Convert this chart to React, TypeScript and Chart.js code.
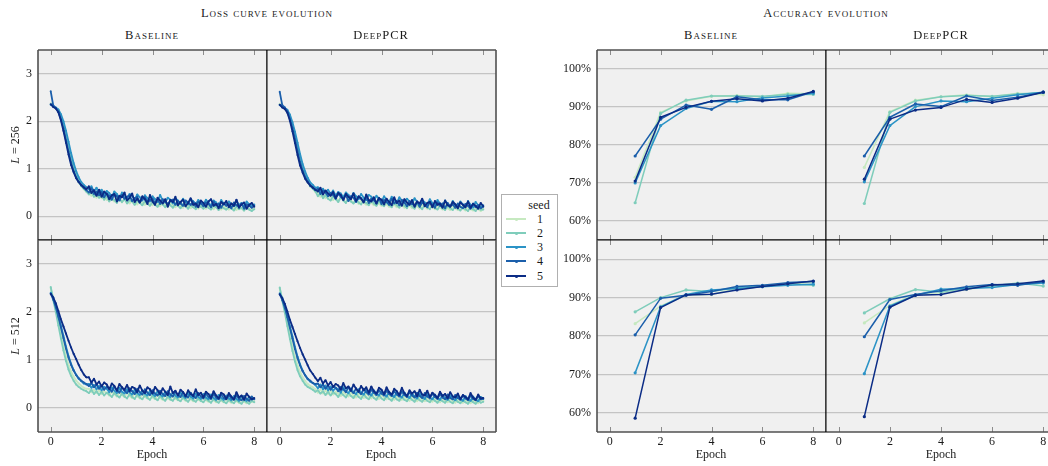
import React, { useEffect, useRef } from "react";
import { Chart, registerables } from "chart.js";

Chart.register(...registerables);

const FONT = '"Liberation Serif", "DejaVu Serif", serif';

const SEED_LABELS = ["1", "2", "3", "4", "5"];
const SEED_COLORS = ["#c6e9c0", "#7fcdbb", "#2b93c6", "#1b5fab", "#0b2c86"];

const X_TICKS = [0, 2, 4, 6, 8];
const LOSS_Y_TICKS = [0, 1, 2, 3];
const ACC_Y_TICKS = [60, 70, 80, 90, 100];

const LOSS_EPOCHS = [
  0, 0.1, 0.2, 0.3, 0.4, 0.5, 0.6, 0.7, 0.8, 0.9,
  1, 1.1, 1.2, 1.3, 1.4, 1.5, 1.6, 1.7, 1.8, 1.9,
  2, 2.1, 2.2, 2.3, 2.4, 2.5, 2.6, 2.7, 2.8, 2.9,
  3, 3.1, 3.2, 3.3, 3.4, 3.5, 3.6, 3.7, 3.8, 3.9,
  4, 4.1, 4.2, 4.3, 4.4, 4.5, 4.6, 4.7, 4.8, 4.9,
  5, 5.1, 5.2, 5.3, 5.4, 5.5, 5.6, 5.7, 5.8, 5.9,
  6, 6.1, 6.2, 6.3, 6.4, 6.5, 6.6, 6.7, 6.8, 6.9,
  7, 7.1, 7.2, 7.3, 7.4, 7.5, 7.6, 7.7, 7.8, 7.9,
  8,
];
const ACC_EPOCHS = [1, 2, 3, 4, 5, 6, 7, 8];

// ---------- Loss, Baseline, L = 256 ----------
const LOSS_BASE_256_S1 = [
  2.38, 2.31, 2.27, 2.21, 2.07, 1.90, 1.66, 1.41, 1.17, 0.98,
  0.83, 0.71, 0.63, 0.57, 0.52, 0.48, 0.43, 0.49, 0.39, 0.45,
  0.38, 0.43, 0.34, 0.40, 0.36, 0.31, 0.39, 0.35, 0.29, 0.37,
  0.32, 0.27, 0.35, 0.30, 0.25, 0.33, 0.29, 0.24, 0.32, 0.27,
  0.23, 0.30, 0.26, 0.21, 0.29, 0.25, 0.20, 0.28, 0.23, 0.19,
  0.27, 0.22, 0.18, 0.26, 0.21, 0.17, 0.25, 0.20, 0.16, 0.24,
  0.20, 0.16, 0.23, 0.19, 0.15, 0.22, 0.18, 0.14, 0.21, 0.17,
  0.14, 0.21, 0.17, 0.13, 0.20, 0.16, 0.12, 0.19, 0.15, 0.13,
  0.16,
];
const LOSS_BASE_256_S2 = [
  2.36, 2.31, 2.28, 2.23, 2.10, 1.95, 1.72, 1.48, 1.24, 1.04,
  0.88, 0.75, 0.65, 0.58, 0.52, 0.46, 0.51, 0.41, 0.47, 0.39,
  0.43, 0.35, 0.42, 0.31, 0.39, 0.34, 0.28, 0.38, 0.30, 0.36,
  0.27, 0.34, 0.31, 0.24, 0.33, 0.28, 0.23, 0.32, 0.26, 0.22,
  0.30, 0.24, 0.20, 0.29, 0.25, 0.19, 0.28, 0.23, 0.18, 0.27,
  0.22, 0.17, 0.26, 0.21, 0.16, 0.24, 0.19, 0.15, 0.25, 0.20,
  0.16, 0.23, 0.18, 0.14, 0.22, 0.19, 0.13, 0.21, 0.17, 0.14,
  0.20, 0.16, 0.12, 0.21, 0.15, 0.18, 0.12, 0.19, 0.14, 0.11,
  0.15,
];
const LOSS_BASE_256_S3 = [
  2.35, 2.32, 2.29, 2.25, 2.15, 2.00, 1.80, 1.57, 1.33, 1.12,
  0.95, 0.82, 0.72, 0.66, 0.61, 0.57, 0.63, 0.52, 0.60, 0.49,
  0.56, 0.46, 0.53, 0.49, 0.41, 0.52, 0.47, 0.38, 0.50, 0.44,
  0.37, 0.47, 0.43, 0.34, 0.46, 0.40, 0.33, 0.44, 0.38, 0.31,
  0.42, 0.36, 0.30, 0.45, 0.33, 0.29, 0.39, 0.35, 0.27, 0.38,
  0.33, 0.27, 0.37, 0.30, 0.25, 0.36, 0.31, 0.26, 0.34, 0.29,
  0.24, 0.35, 0.28, 0.23, 0.33, 0.29, 0.22, 0.34, 0.27, 0.23,
  0.31, 0.26, 0.21, 0.33, 0.24, 0.28, 0.20, 0.31, 0.25, 0.22,
  0.25,
];
const LOSS_BASE_256_S4 = [
  2.63, 2.33, 2.28, 2.20, 2.04, 1.85, 1.60, 1.36, 1.13, 0.95,
  0.82, 0.72, 0.65, 0.60, 0.55, 0.50, 0.59, 0.47, 0.52, 0.44,
  0.51, 0.40, 0.48, 0.43, 0.35, 0.46, 0.42, 0.33, 0.45, 0.37,
  0.41, 0.44, 0.32, 0.38, 0.41, 0.29, 0.36, 0.40, 0.31, 0.34,
  0.37, 0.28, 0.35, 0.26, 0.36, 0.31, 0.25, 0.33, 0.35, 0.24,
  0.32, 0.27, 0.22, 0.33, 0.29, 0.24, 0.31, 0.20, 0.30, 0.27,
  0.21, 0.29, 0.26, 0.19, 0.31, 0.23, 0.27, 0.18, 0.28, 0.22,
  0.26, 0.17, 0.29, 0.23, 0.20, 0.27, 0.16, 0.25, 0.22, 0.18,
  0.22,
];
const LOSS_BASE_256_S5 = [
  2.36, 2.30, 2.27, 2.19, 2.02, 1.80, 1.55, 1.30, 1.08, 0.93,
  0.80, 0.72, 0.66, 0.61, 0.57, 0.63, 0.49, 0.55, 0.43, 0.56,
  0.41, 0.52, 0.47, 0.36, 0.44, 0.47, 0.31, 0.43, 0.40, 0.50,
  0.33, 0.39, 0.48, 0.30, 0.37, 0.29, 0.42, 0.36, 0.26, 0.45,
  0.31, 0.24, 0.39, 0.33, 0.27, 0.36, 0.20, 0.34, 0.30, 0.41,
  0.23, 0.30, 0.35, 0.21, 0.28, 0.38, 0.24, 0.27, 0.19, 0.33,
  0.28, 0.20, 0.31, 0.36, 0.22, 0.26, 0.17, 0.30, 0.25, 0.32,
  0.19, 0.27, 0.22, 0.35, 0.18, 0.25, 0.29, 0.16, 0.24, 0.28,
  0.20,
];

// ---------- Loss, DeepPCR, L = 256 ----------
const LOSS_DEEP_256_S1 = [
  2.37, 2.30, 2.26, 2.20, 2.06, 1.88, 1.64, 1.40, 1.16, 0.97,
  0.82, 0.72, 0.62, 0.58, 0.51, 0.49, 0.41, 0.46, 0.38, 0.44,
  0.40, 0.34, 0.42, 0.31, 0.38, 0.35, 0.29, 0.37, 0.33, 0.28,
  0.35, 0.26, 0.33, 0.29, 0.24, 0.32, 0.28, 0.23, 0.31, 0.26,
  0.22, 0.30, 0.25, 0.20, 0.29, 0.24, 0.19, 0.28, 0.23, 0.18,
  0.26, 0.22, 0.17, 0.27, 0.21, 0.16, 0.25, 0.20, 0.16, 0.24,
  0.19, 0.15, 0.23, 0.18, 0.14, 0.23, 0.17, 0.13, 0.22, 0.17,
  0.13, 0.21, 0.16, 0.12, 0.21, 0.15, 0.12, 0.20, 0.15, 0.11,
  0.16,
];
const LOSS_DEEP_256_S2 = [
  2.35, 2.30, 2.27, 2.22, 2.09, 1.93, 1.70, 1.46, 1.22, 1.02,
  0.87, 0.75, 0.66, 0.58, 0.53, 0.42, 0.49, 0.38, 0.45, 0.37,
  0.33, 0.43, 0.36, 0.30, 0.41, 0.33, 0.28, 0.39, 0.31, 0.27,
  0.36, 0.29, 0.25, 0.34, 0.28, 0.23, 0.33, 0.27, 0.22, 0.32,
  0.25, 0.21, 0.30, 0.24, 0.19, 0.29, 0.23, 0.18, 0.28, 0.22,
  0.17, 0.27, 0.21, 0.16, 0.26, 0.20, 0.15, 0.25, 0.19, 0.15,
  0.24, 0.18, 0.14, 0.23, 0.17, 0.13, 0.22, 0.17, 0.13, 0.21,
  0.16, 0.12, 0.21, 0.15, 0.11, 0.20, 0.15, 0.11, 0.19, 0.14,
  0.14,
];
const LOSS_DEEP_256_S3 = [
  2.34, 2.31, 2.28, 2.24, 2.14, 1.98, 1.78, 1.55, 1.31, 1.10,
  0.94, 0.81, 0.71, 0.66, 0.60, 0.61, 0.53, 0.58, 0.50, 0.56,
  0.47, 0.54, 0.44, 0.51, 0.48, 0.40, 0.50, 0.45, 0.38, 0.49,
  0.42, 0.36, 0.47, 0.39, 0.34, 0.45, 0.41, 0.33, 0.43, 0.37,
  0.31, 0.42, 0.35, 0.30, 0.41, 0.34, 0.28, 0.40, 0.33, 0.29,
  0.37, 0.31, 0.26, 0.38, 0.30, 0.25, 0.35, 0.29, 0.24, 0.36,
  0.28, 0.23, 0.34, 0.27, 0.22, 0.33, 0.26, 0.21, 0.32, 0.25,
  0.21, 0.31, 0.25, 0.20, 0.32, 0.24, 0.19, 0.30, 0.23, 0.20,
  0.23,
];
const LOSS_DEEP_256_S4 = [
  2.62, 2.34, 2.29, 2.21, 2.05, 1.86, 1.62, 1.37, 1.14, 0.96,
  0.83, 0.73, 0.64, 0.61, 0.55, 0.58, 0.47, 0.54, 0.50, 0.42,
  0.49, 0.45, 0.37, 0.47, 0.41, 0.36, 0.45, 0.32, 0.42, 0.39,
  0.30, 0.41, 0.38, 0.31, 0.40, 0.28, 0.37, 0.34, 0.27, 0.39,
  0.26, 0.34, 0.30, 0.24, 0.37, 0.27, 0.32, 0.23, 0.34, 0.29,
  0.21, 0.32, 0.26, 0.23, 0.31, 0.20, 0.29, 0.25, 0.19, 0.30,
  0.24, 0.18, 0.29, 0.22, 0.27, 0.17, 0.28, 0.21, 0.25, 0.18,
  0.27, 0.20, 0.17, 0.26, 0.22, 0.16, 0.27, 0.19, 0.23, 0.17,
  0.20,
];
const LOSS_DEEP_256_S5 = [
  2.35, 2.29, 2.26, 2.18, 2.01, 1.79, 1.54, 1.29, 1.07, 0.92,
  0.79, 0.71, 0.65, 0.60, 0.56, 0.52, 0.60, 0.46, 0.54, 0.48,
  0.43, 0.51, 0.38, 0.49, 0.45, 0.34, 0.47, 0.41, 0.36, 0.48,
  0.32, 0.42, 0.37, 0.29, 0.46, 0.34, 0.31, 0.40, 0.27, 0.38,
  0.35, 0.25, 0.37, 0.30, 0.23, 0.40, 0.28, 0.33, 0.22, 0.36,
  0.29, 0.24, 0.34, 0.20, 0.31, 0.27, 0.37, 0.21, 0.28, 0.30,
  0.19, 0.32, 0.24, 0.27, 0.18, 0.33, 0.23, 0.20, 0.30, 0.25,
  0.17, 0.29, 0.24, 0.19, 0.31, 0.18, 0.26, 0.22, 0.16, 0.28,
  0.21,
];

// ---------- Loss, Baseline, L = 512 ----------
const LOSS_BASE_512_S1 = [
  2.50, 2.28, 2.05, 1.80, 1.55, 1.30, 1.08, 0.90, 0.76, 0.65,
  0.57, 0.51, 0.46, 0.42, 0.40, 0.40, 0.33, 0.38, 0.31, 0.37,
  0.29, 0.35, 0.31, 0.26, 0.34, 0.29, 0.24, 0.33, 0.27, 0.23,
  0.32, 0.25, 0.21, 0.31, 0.24, 0.20, 0.30, 0.23, 0.20, 0.29,
  0.22, 0.18, 0.28, 0.21, 0.17, 0.27, 0.20, 0.17, 0.26, 0.19,
  0.16, 0.25, 0.19, 0.15, 0.24, 0.18, 0.14, 0.23, 0.17, 0.14,
  0.22, 0.16, 0.13, 0.21, 0.16, 0.12, 0.20, 0.15, 0.12, 0.19,
  0.14, 0.11, 0.19, 0.14, 0.11, 0.18, 0.13, 0.10, 0.17, 0.13,
  0.14,
];
const LOSS_BASE_512_S2 = [
  2.52, 2.25, 2.00, 1.72, 1.45, 1.20, 0.98, 0.80, 0.67, 0.57,
  0.49, 0.44, 0.40, 0.37, 0.35, 0.31, 0.38, 0.29, 0.35, 0.27,
  0.34, 0.26, 0.32, 0.28, 0.23, 0.31, 0.26, 0.22, 0.30, 0.24,
  0.20, 0.29, 0.23, 0.19, 0.28, 0.22, 0.18, 0.27, 0.21, 0.17,
  0.26, 0.20, 0.16, 0.25, 0.19, 0.15, 0.24, 0.18, 0.15, 0.23,
  0.17, 0.14, 0.22, 0.17, 0.13, 0.21, 0.16, 0.13, 0.20, 0.15,
  0.12, 0.19, 0.15, 0.11, 0.19, 0.14, 0.11, 0.18, 0.13, 0.10,
  0.17, 0.13, 0.10, 0.17, 0.12, 0.09, 0.16, 0.12, 0.09, 0.15,
  0.12,
];
const LOSS_BASE_512_S3 = [
  2.40, 2.30, 2.14, 1.94, 1.72, 1.50, 1.28, 1.08, 0.92, 0.79,
  0.69, 0.61, 0.56, 0.51, 0.49, 0.50, 0.42, 0.48, 0.39, 0.46,
  0.37, 0.44, 0.40, 0.33, 0.43, 0.36, 0.31, 0.42, 0.34, 0.30,
  0.39, 0.33, 0.28, 0.38, 0.31, 0.27, 0.37, 0.30, 0.26, 0.36,
  0.29, 0.25, 0.35, 0.28, 0.24, 0.34, 0.27, 0.23, 0.33, 0.26,
  0.22, 0.32, 0.25, 0.21, 0.31, 0.24, 0.20, 0.30, 0.23, 0.19,
  0.29, 0.22, 0.18, 0.28, 0.21, 0.17, 0.27, 0.21, 0.17, 0.26,
  0.20, 0.16, 0.25, 0.19, 0.15, 0.25, 0.18, 0.15, 0.24, 0.18,
  0.19,
];
const LOSS_BASE_512_S4 = [
  2.38, 2.26, 2.10, 1.90, 1.68, 1.46, 1.24, 1.05, 0.90, 0.78,
  0.69, 0.62, 0.57, 0.53, 0.50, 0.46, 0.52, 0.43, 0.49, 0.40,
  0.47, 0.38, 0.44, 0.41, 0.34, 0.45, 0.37, 0.32, 0.43, 0.36,
  0.31, 0.41, 0.35, 0.29, 0.40, 0.33, 0.28, 0.39, 0.32, 0.27,
  0.37, 0.30, 0.26, 0.36, 0.29, 0.25, 0.35, 0.28, 0.24, 0.34,
  0.27, 0.23, 0.33, 0.26, 0.22, 0.32, 0.25, 0.21, 0.31, 0.24,
  0.20, 0.30, 0.23, 0.19, 0.29, 0.22, 0.18, 0.28, 0.21, 0.18,
  0.27, 0.20, 0.17, 0.26, 0.19, 0.16, 0.25, 0.19, 0.15, 0.24,
  0.18,
];
const LOSS_BASE_512_S5 = [
  2.38, 2.30, 2.18, 2.02, 1.85, 1.70, 1.55, 1.40, 1.26, 1.13,
  1.02, 0.90, 0.79, 0.70, 0.64, 0.64, 0.53, 0.61, 0.49, 0.55,
  0.45, 0.53, 0.49, 0.39, 0.51, 0.46, 0.36, 0.50, 0.43, 0.38,
  0.48, 0.35, 0.44, 0.41, 0.33, 0.47, 0.36, 0.31, 0.43, 0.39,
  0.30, 0.44, 0.37, 0.29, 0.41, 0.34, 0.27, 0.45, 0.31, 0.36,
  0.26, 0.38, 0.33, 0.24, 0.37, 0.29, 0.25, 0.39, 0.27, 0.32,
  0.22, 0.34, 0.29, 0.21, 0.35, 0.26, 0.20, 0.32, 0.28, 0.19,
  0.31, 0.24, 0.18, 0.33, 0.22, 0.26, 0.17, 0.30, 0.23, 0.18,
  0.21,
];

// ---------- Loss, DeepPCR, L = 512 ----------
const LOSS_DEEP_512_S1 = [
  2.49, 2.27, 2.04, 1.79, 1.54, 1.29, 1.07, 0.89, 0.75, 0.64,
  0.56, 0.50, 0.46, 0.43, 0.39, 0.32, 0.39, 0.30, 0.37, 0.29,
  0.36, 0.28, 0.34, 0.30, 0.25, 0.33, 0.28, 0.24, 0.32, 0.26,
  0.22, 0.31, 0.25, 0.21, 0.30, 0.24, 0.20, 0.29, 0.23, 0.19,
  0.28, 0.21, 0.18, 0.27, 0.20, 0.17, 0.26, 0.19, 0.17, 0.25,
  0.18, 0.15, 0.24, 0.18, 0.14, 0.23, 0.17, 0.14, 0.22, 0.16,
  0.13, 0.21, 0.16, 0.12, 0.21, 0.15, 0.12, 0.20, 0.14, 0.11,
  0.19, 0.14, 0.11, 0.18, 0.13, 0.10, 0.18, 0.13, 0.10, 0.17,
  0.15,
];
const LOSS_DEEP_512_S2 = [
  2.51, 2.24, 1.99, 1.71, 1.44, 1.19, 0.97, 0.79, 0.66, 0.57,
  0.49, 0.44, 0.41, 0.38, 0.34, 0.37, 0.30, 0.35, 0.27, 0.34,
  0.26, 0.33, 0.29, 0.23, 0.32, 0.27, 0.22, 0.31, 0.25, 0.21,
  0.30, 0.23, 0.19, 0.29, 0.22, 0.18, 0.28, 0.21, 0.17, 0.27,
  0.20, 0.16, 0.26, 0.19, 0.15, 0.25, 0.18, 0.15, 0.24, 0.17,
  0.14, 0.23, 0.17, 0.13, 0.22, 0.16, 0.13, 0.21, 0.15, 0.12,
  0.20, 0.15, 0.11, 0.19, 0.14, 0.11, 0.19, 0.13, 0.10, 0.18,
  0.13, 0.10, 0.17, 0.12, 0.09, 0.17, 0.12, 0.09, 0.16, 0.11,
  0.13,
];
const LOSS_DEEP_512_S3 = [
  2.39, 2.29, 2.13, 1.93, 1.71, 1.49, 1.27, 1.07, 0.91, 0.78,
  0.68, 0.60, 0.55, 0.52, 0.48, 0.41, 0.49, 0.39, 0.47, 0.37,
  0.45, 0.36, 0.42, 0.39, 0.32, 0.43, 0.35, 0.31, 0.41, 0.33,
  0.29, 0.39, 0.32, 0.28, 0.38, 0.31, 0.26, 0.37, 0.30, 0.26,
  0.35, 0.28, 0.24, 0.34, 0.27, 0.23, 0.33, 0.26, 0.22, 0.32,
  0.25, 0.21, 0.31, 0.24, 0.20, 0.30, 0.23, 0.19, 0.29, 0.22,
  0.18, 0.28, 0.21, 0.17, 0.27, 0.21, 0.17, 0.26, 0.20, 0.16,
  0.25, 0.19, 0.15, 0.25, 0.18, 0.15, 0.24, 0.18, 0.14, 0.23,
  0.20,
];
const LOSS_DEEP_512_S4 = [
  2.37, 2.25, 2.09, 1.89, 1.67, 1.45, 1.23, 1.04, 0.89, 0.77,
  0.68, 0.61, 0.57, 0.52, 0.50, 0.51, 0.43, 0.49, 0.40, 0.47,
  0.38, 0.46, 0.42, 0.35, 0.44, 0.39, 0.33, 0.43, 0.36, 0.31,
  0.41, 0.34, 0.29, 0.40, 0.33, 0.28, 0.38, 0.32, 0.27, 0.37,
  0.30, 0.26, 0.36, 0.29, 0.25, 0.35, 0.28, 0.24, 0.34, 0.27,
  0.23, 0.33, 0.26, 0.22, 0.32, 0.25, 0.21, 0.31, 0.24, 0.20,
  0.30, 0.23, 0.19, 0.29, 0.22, 0.18, 0.28, 0.21, 0.18, 0.27,
  0.21, 0.17, 0.26, 0.20, 0.16, 0.26, 0.19, 0.16, 0.25, 0.18,
  0.19,
];
const LOSS_DEEP_512_S5 = [
  2.37, 2.29, 2.17, 2.01, 1.84, 1.69, 1.54, 1.39, 1.25, 1.12,
  1.01, 0.89, 0.78, 0.71, 0.63, 0.56, 0.63, 0.51, 0.58, 0.47,
  0.54, 0.44, 0.50, 0.47, 0.38, 0.52, 0.41, 0.45, 0.36, 0.49,
  0.40, 0.34, 0.46, 0.37, 0.43, 0.32, 0.45, 0.35, 0.30, 0.42,
  0.38, 0.29, 0.43, 0.33, 0.28, 0.40, 0.35, 0.27, 0.42, 0.31,
  0.25, 0.37, 0.30, 0.35, 0.24, 0.38, 0.28, 0.26, 0.36, 0.23,
  0.32, 0.27, 0.21, 0.34, 0.25, 0.29, 0.20, 0.33, 0.24, 0.22,
  0.30, 0.19, 0.27, 0.23, 0.18, 0.31, 0.22, 0.17, 0.28, 0.20,
  0.21,
];

// ---------- Accuracy (%) per epoch ----------
const ACC_BASE_256_S1 = [71.5, 88.6, 91.6, 92.8, 93.0, 92.6, 93.6, 93.5];
const ACC_BASE_256_S2 = [64.8, 88.3, 91.8, 92.9, 92.9, 92.8, 93.3, 93.3];
const ACC_BASE_256_S3 = [70.0, 85.1, 89.6, 91.5, 91.4, 92.4, 92.9, 93.6];
const ACC_BASE_256_S4 = [77.1, 86.8, 90.5, 89.4, 92.7, 91.9, 91.9, 94.0];
const ACC_BASE_256_S5 = [70.5, 87.3, 89.9, 91.5, 92.2, 91.6, 92.3, 94.1];

const ACC_DEEP_256_S1 = [74.1, 88.8, 91.8, 92.7, 93.2, 92.7, 93.6, 93.2];
const ACC_DEEP_256_S2 = [64.6, 88.6, 91.6, 92.7, 93.0, 92.8, 93.4, 93.8];
const ACC_DEEP_256_S3 = [70.3, 85.1, 90.1, 91.6, 91.4, 92.3, 93.2, 93.9];
const ACC_DEEP_256_S4 = [77.1, 87.3, 90.8, 90.1, 92.9, 91.7, 92.6, 93.9];
const ACC_DEEP_256_S5 = [71.0, 86.8, 89.2, 89.9, 92.0, 91.2, 92.3, 93.9];

const ACC_BASE_512_S1 = [83.2, 87.8, 90.6, 90.8, 92.3, 92.9, 93.5, 94.0];
const ACC_BASE_512_S2 = [86.3, 90.0, 92.0, 91.6, 92.6, 93.1, 93.6, 93.2];
const ACC_BASE_512_S3 = [70.4, 87.6, 90.8, 92.0, 92.4, 92.8, 93.2, 93.5];
const ACC_BASE_512_S4 = [80.3, 89.8, 90.6, 91.6, 92.9, 93.2, 93.9, 94.2];
const ACC_BASE_512_S5 = [58.6, 87.4, 90.7, 90.9, 92.0, 92.9, 93.6, 94.3];

const ACC_DEEP_512_S1 = [83.4, 88.0, 90.8, 91.0, 92.1, 93.0, 93.3, 94.0];
const ACC_DEEP_512_S2 = [86.0, 89.7, 92.1, 91.4, 92.5, 93.0, 93.8, 93.0];
const ACC_DEEP_512_S3 = [70.2, 87.8, 90.6, 92.2, 92.4, 92.6, 93.4, 93.8];
const ACC_DEEP_512_S4 = [79.8, 89.5, 90.8, 91.8, 92.8, 93.4, 93.2, 94.1];
const ACC_DEEP_512_S5 = [59.0, 87.5, 90.6, 90.8, 92.2, 93.3, 93.6, 94.3];

// ---------- layout ----------
const ML = 44;
const MR = 6;
const MT = 6;
const MB = 30;

type Side = "o" | "i";
type Sides = { t: Side; r: Side; b: Side; l: Side };

const decoPlugin = {
  id: "deco",
  beforeDraw(chart: any) {
    const { ctx, chartArea: a } = chart;
    ctx.save();
    ctx.fillStyle = "#f0f0f0";
    ctx.fillRect(a.left, a.top, a.right - a.left, a.bottom - a.top);
    ctx.restore();
  },
  afterDraw(chart: any, _args: any, opts: any) {
    const { ctx, chartArea: a, scales } = chart;
    const xs = scales.x;
    ctx.save();
    ctx.strokeStyle = "#8c8c8c";
    ctx.lineWidth = 1;
    for (const v of X_TICKS) {
      const px = Math.round(xs.getPixelForValue(v)) + 0.5;
      ctx.beginPath();
      ctx.moveTo(px, a.top);
      ctx.lineTo(px, a.top + 5);
      ctx.moveTo(px, a.bottom);
      ctx.lineTo(px, a.bottom - 5);
      ctx.stroke();
    }
    const s: Sides = opts.sides;
    const line = (k: Side, x1: number, y1: number, x2: number, y2: number) => {
      ctx.strokeStyle = k === "o" ? "#505050" : "#000000";
      ctx.lineWidth = k === "o" ? 1.6 : 1;
      ctx.beginPath();
      ctx.moveTo(x1, y1);
      ctx.lineTo(x2, y2);
      ctx.stroke();
    };
    const L = a.left, R = a.right, T = a.top, B = a.bottom;
    line(s.t, L, T, R, T);
    line(s.b, L, B, R, B);
    line(s.l, L, T, L, B);
    line(s.r, R, T, R, B);
    ctx.restore();
  },
};

type PanelProps = {
  l: number;
  t: number;
  w: number;
  h: number;
  xs: number[];
  series: number[][];
  yMin: number;
  yMax: number;
  yTicks: number[];
  pct: boolean;
  showY: boolean;
  showX: boolean;
  lw: number;
  pr: number;
  sides: Sides;
};

function Panel(p: PanelProps) {
  const ref = useRef<HTMLCanvasElement | null>(null);
  const cw = p.w + ML + MR;
  const ch = p.h + MT + MB;
  useEffect(() => {
    if (!ref.current) return;
    const chart = new Chart(ref.current, {
      type: "line",
      data: {
        datasets: p.series.map((d, i) => ({
          label: SEED_LABELS[i],
          data: d.map((y, j) => ({ x: p.xs[j], y })),
          borderColor: SEED_COLORS[i],
          backgroundColor: SEED_COLORS[i],
          pointBackgroundColor: SEED_COLORS[i],
          pointBorderWidth: 0,
          pointRadius: p.pr,
          pointHoverRadius: p.pr,
          borderWidth: p.lw,
          borderJoinStyle: "bevel",
          tension: 0,
          fill: false,
          order: 5 - i,
        })),
      },
      options: {
        animation: false,
        responsive: false,
        maintainAspectRatio: false,
        events: [],
        layout: {
          autoPadding: false,
          padding: { left: 0, right: MR, top: MT, bottom: 0 },
        },
        plugins: {
          legend: { display: false },
          tooltip: { enabled: false },
          deco: { sides: p.sides },
        } as any,
        scales: {
          x: {
            type: "linear",
            min: -0.5,
            max: 8.5,
            grid: { display: false, drawTicks: false },
            border: { display: false },
            afterFit: (s: any) => {
              s.height = MB;
              s.paddingLeft = 0;
              s.paddingRight = 0;
              s.paddingTop = 0;
              s.paddingBottom = 0;
            },
            afterBuildTicks: (s: any) => {
              s.ticks = X_TICKS.map((v) => ({ value: v }));
            },
            ticks: {
              display: p.showX,
              autoSkip: false,
              maxRotation: 0,
              padding: 3,
              color: "#1a1a1a",
              font: { family: FONT, size: 12 },
            },
          },
          y: {
            type: "linear",
            min: p.yMin,
            max: p.yMax,
            grid: { color: "#c4c4c4", lineWidth: 1.2, drawTicks: false },
            border: { display: false },
            afterFit: (s: any) => {
              s.width = ML;
              s.paddingTop = 0;
              s.paddingBottom = 0;
              s.paddingLeft = 0;
              s.paddingRight = 0;
            },
            afterBuildTicks: (s: any) => {
              s.ticks = p.yTicks.map((v) => ({ value: v }));
            },
            ticks: {
              display: p.showY,
              padding: 6,
              color: "#1a1a1a",
              font: { family: FONT, size: 12 },
              callback: (v: any) => (p.pct ? `${v}%` : `${v}`),
            },
          },
        },
      },
      plugins: [decoPlugin],
    });
    return () => chart.destroy();
  }, []);
  return (
    <canvas
      ref={ref}
      width={cw}
      height={ch}
      style={{
        position: "absolute",
        left: p.l - ML,
        top: p.t - MT,
        width: cw,
        height: ch,
      }}
    />
  );
}

const txt = (x: number, y: number, content: React.ReactNode, extra: React.CSSProperties = {}) => (
  <div
    style={{
      position: "absolute",
      left: x,
      top: y,
      transform: "translate(-50%, -50%)",
      whiteSpace: "nowrap",
      fontFamily: FONT,
      fontSize: 12,
      lineHeight: 1,
      color: "#1a1a1a",
      ...extra,
    }}
  >
    {content}
  </div>
);

export default function App() {
  const lossCommon = { xs: LOSS_EPOCHS, yMin: -0.5, yMax: 3.5, yTicks: LOSS_Y_TICKS, pct: false, lw: 1.8, pr: 1 };
  const accCommon = { xs: ACC_EPOCHS, yMin: 55, yMax: 105, yTicks: ACC_Y_TICKS, pct: true, lw: 1.5, pr: 1.6 };

  const panels: PanelProps[] = [
    {
      ...lossCommon, l: 38, t: 50, w: 229, h: 190, showY: true, showX: false,
      series: [LOSS_BASE_256_S1, LOSS_BASE_256_S2, LOSS_BASE_256_S3, LOSS_BASE_256_S4, LOSS_BASE_256_S5],
      sides: { t: "o", l: "o", r: "i", b: "i" },
    },
    {
      ...lossCommon, l: 267, t: 50, w: 229, h: 190, showY: false, showX: false,
      series: [LOSS_DEEP_256_S1, LOSS_DEEP_256_S2, LOSS_DEEP_256_S3, LOSS_DEEP_256_S4, LOSS_DEEP_256_S5],
      sides: { t: "o", l: "i", r: "o", b: "i" },
    },
    {
      ...lossCommon, l: 38, t: 240, w: 229, h: 192, showY: true, showX: true,
      series: [LOSS_BASE_512_S1, LOSS_BASE_512_S2, LOSS_BASE_512_S3, LOSS_BASE_512_S4, LOSS_BASE_512_S5],
      sides: { t: "i", l: "o", r: "i", b: "o" },
    },
    {
      ...lossCommon, l: 267, t: 240, w: 229, h: 192, showY: false, showX: true,
      series: [LOSS_DEEP_512_S1, LOSS_DEEP_512_S2, LOSS_DEEP_512_S3, LOSS_DEEP_512_S4, LOSS_DEEP_512_S5],
      sides: { t: "i", l: "i", r: "o", b: "o" },
    },
    {
      ...accCommon, l: 597, t: 50, w: 229, h: 190, showY: true, showX: false,
      series: [ACC_BASE_256_S1, ACC_BASE_256_S2, ACC_BASE_256_S3, ACC_BASE_256_S4, ACC_BASE_256_S5],
      sides: { t: "o", l: "o", r: "i", b: "i" },
    },
    {
      ...accCommon, l: 826, t: 50, w: 230, h: 190, showY: false, showX: false,
      series: [ACC_DEEP_256_S1, ACC_DEEP_256_S2, ACC_DEEP_256_S3, ACC_DEEP_256_S4, ACC_DEEP_256_S5],
      sides: { t: "o", l: "i", r: "o", b: "i" },
    },
    {
      ...accCommon, l: 597, t: 240, w: 229, h: 192, showY: true, showX: true,
      series: [ACC_BASE_512_S1, ACC_BASE_512_S2, ACC_BASE_512_S3, ACC_BASE_512_S4, ACC_BASE_512_S5],
      sides: { t: "i", l: "o", r: "i", b: "o" },
    },
    {
      ...accCommon, l: 826, t: 240, w: 230, h: 192, showY: false, showX: true,
      series: [ACC_DEEP_512_S1, ACC_DEEP_512_S2, ACC_DEEP_512_S3, ACC_DEEP_512_S4, ACC_DEEP_512_S5],
      sides: { t: "i", l: "i", r: "o", b: "o" },
    },
  ];

  const sc: React.CSSProperties = { fontVariant: "small-caps", fontSize: 12.5, letterSpacing: 1 };
  const legendRows = [219, 233, 247, 261, 276];

  return (
    <div
      style={{
        position: "fixed",
        left: 0,
        top: 0,
        width: 1048,
        height: 466,
        overflow: "hidden",
        background: "#ffffff",
      }}
    >
      {panels.map((p, i) => (
        <Panel key={i} {...p} />
      ))}

      {txt(267, 13, "Loss curve evolution", sc)}
      {txt(826, 13, "Accuracy evolution", sc)}
      {txt(152, 35, "Baseline", sc)}
      {txt(381, 35, "DeepPCR", sc)}
      {txt(711, 35, "Baseline", sc)}
      {txt(941, 35, "DeepPCR", sc)}

      {txt(152, 454, "Epoch")}
      {txt(381, 454, "Epoch")}
      {txt(711, 454, "Epoch")}
      {txt(941, 454, "Epoch")}

      {txt(15, 145, <span><i>L</i> = 256</span>, { transform: "translate(-50%, -50%) rotate(-90deg)" })}
      {txt(15, 336, <span><i>L</i> = 512</span>, { transform: "translate(-50%, -50%) rotate(-90deg)" })}

      <div
        style={{
          position: "absolute",
          left: 501,
          top: 194,
          width: 55,
          height: 91,
          border: "1px solid #b0b0b0",
          background: "#ffffff",
        }}
      />
      {txt(539, 205, "seed")}
      {SEED_LABELS.map((lab, i) => (
        <React.Fragment key={lab}>
          <div
            style={{
              position: "absolute",
              left: 506,
              top: legendRows[i] - 0.75,
              width: 20,
              height: 1.5,
              background: SEED_COLORS[i],
            }}
          />
          <div
            style={{
              position: "absolute",
              left: 514.5,
              top: legendRows[i] - 1.5,
              width: 3,
              height: 3,
              borderRadius: 2,
              background: SEED_COLORS[i],
            }}
          />
          {txt(540, legendRows[i], lab)}
        </React.Fragment>
      ))}
    </div>
  );
}
